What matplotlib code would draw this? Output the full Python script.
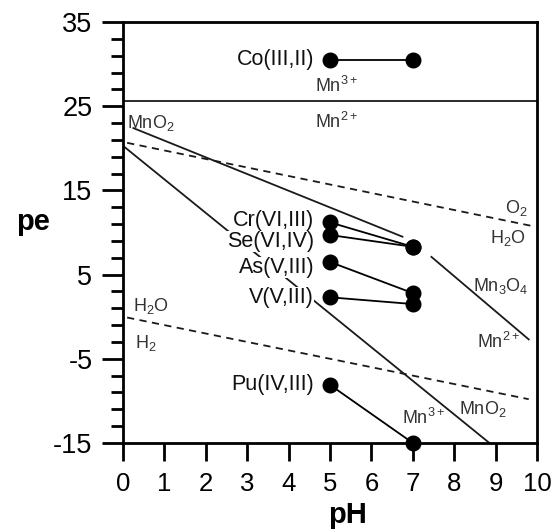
import matplotlib
matplotlib.use("Agg")
import matplotlib.pyplot as plt
import numpy as np

plt.rcParams["font.family"] = ["Liberation Sans", "DejaVu Sans"]
plt.rcParams["mathtext.fontset"] = "custom"
plt.rcParams["mathtext.rm"] = "Liberation Sans"
plt.rcParams["mathtext.it"] = "Liberation Sans"
plt.rcParams["axes.unicode_minus"] = False

# redox couples: pe at pH 5 and pH 7
couples = ["Co(III,II)", "Cr(VI,III)", "Se(VI,IV)", "As(V,III)", "V(V,III)", "Pu(IV,III)"]
ph_pts = [5, 7]
pe_ph5 = [30.5, 11.2, 9.7, 6.5, 2.3, -8.1]
pe_ph7 = [30.5, 8.3, 8.3, 2.8, 1.5, -15.0]

# water stability limits (dashed)
o2_ph = [0.1, 9.9]
o2_pe = [20.65, 10.75]
h2_ph = [0.1, 9.8]
h2_pe = [-0.1, -9.8]

# manganese boundaries (solid)
mn32_pe = 25.6
mno2_a_ph = [0.25, 6.75]
mno2_a_pe = [22.4, 9.5]
mno2_b_ph = [0.05, 8.85]
mno2_b_pe = [20.1, -15.0]
mn3o4_ph = [7.45, 9.8]
mn3o4_pe = [7.1, -2.7]

fig = plt.figure(figsize=(5.58, 5.3), dpi=100)
ax = fig.add_axes([0.2204, 0.1642, 0.742, 0.7943])

lc = "#1a1a1a"
ax.axhline(mn32_pe, color=lc, lw=1.3, zorder=1)
ax.plot(mno2_a_ph, mno2_a_pe, color=lc, lw=1.3, zorder=1)
ax.plot(mno2_b_ph, mno2_b_pe, color=lc, lw=1.3, zorder=1)
ax.plot(mn3o4_ph, mn3o4_pe, color=lc, lw=1.3, zorder=1)
ax.plot(o2_ph, o2_pe, color=lc, lw=1.3, ls=(0, (4, 3)), zorder=1)
ax.plot(h2_ph, h2_pe, color=lc, lw=1.3, ls=(0, (4, 3)), zorder=1)

# vertical nudges (points) for crowded labels
nudge = {"Cr(VI,III)": 1.0, "Se(VI,IV)": -4.5, "As(V,III)": -4.0}

for name, a, b in zip(couples, pe_ph5, pe_ph7):
    ax.plot(ph_pts, [a, b], color="black", lw=1.3, marker="o", ms=10.5,
            zorder=4, clip_on=False)
    dy = nudge.get(name, 0.0)
    # white patch behind the label first, then the label itself on top,
    # so neighbouring labels don't blank each other out
    ax.annotate(name, (4.62, a), xytext=(0, dy), textcoords="offset points",
                ha="right", va="center", fontsize=15.5, color="none", zorder=2,
                bbox=dict(facecolor="white", edgecolor="none", pad=0.0))
    ax.annotate(name, (4.62, a), xytext=(0, dy), textcoords="offset points",
                ha="right", va="center", fontsize=15.5, color="#111111", zorder=3)

# field labels
gray = "#333333"
fs = 13
ax.text(5.15, 27.4, "Mn$^{3+}$", ha="center", va="center", fontsize=fs, color=gray)
ax.text(5.15, 23.1, "Mn$^{2+}$", ha="center", va="center", fontsize=fs, color=gray)
ax.text(0.1, 23.0, "MnO$_2$", ha="left", va="center", fontsize=fs, color=gray)
ax.text(9.5, 12.9, "O$_2$", ha="center", va="center", fontsize=fs, color=gray)
ax.text(9.3, 9.4, "H$_2$O", ha="center", va="center", fontsize=fs, color=gray)
ax.text(9.13, 3.7, "Mn$_3$O$_4$", ha="center", va="center", fontsize=fs, color=gray)
ax.text(9.07, -3.0, "Mn$^{2+}$", ha="center", va="center", fontsize=fs, color=gray)
ax.text(8.7, -11.0, "MnO$_2$", ha="center", va="center", fontsize=fs, color=gray)
ax.text(7.25, -12.0, "Mn$^{3+}$", ha="center", va="center", fontsize=fs, color=gray)
ax.text(0.67, 1.3, "H$_2$O", ha="center", va="center", fontsize=fs, color=gray)
ax.text(0.55, -3.1, "H$_2$", ha="center", va="center", fontsize=fs, color=gray)

ax.set_xlim(0, 10)
ax.set_ylim(-15, 35)
ax.set_xticks(np.arange(0, 11, 1))
ax.set_yticks(np.arange(-15, 36, 10))
ax.set_yticks(np.arange(-13, 35, 2), minor=True)
ax.tick_params(axis="x", labelsize=18.5)
ax.tick_params(axis="y", labelsize=19.5)
ax.tick_params(axis="both", direction="out", width=2, colors="black")
ax.tick_params(axis="y", which="major", length=15, pad=7)
ax.tick_params(axis="y", which="minor", length=9, width=2)
ax.tick_params(axis="x", which="major", length=13, pad=8)
for s in ax.spines.values():
    s.set_linewidth(2)

ax.set_xlabel("pH", fontsize=21, fontweight="bold", va="center")
ax.set_ylabel("pe", fontsize=21, fontweight="bold", rotation=0, va="center", ha="center")
ax.xaxis.set_label_coords(0.543, -0.171)
ax.yaxis.set_label_coords(-0.217, 0.525)

fig.savefig("out.png", dpi=100)
